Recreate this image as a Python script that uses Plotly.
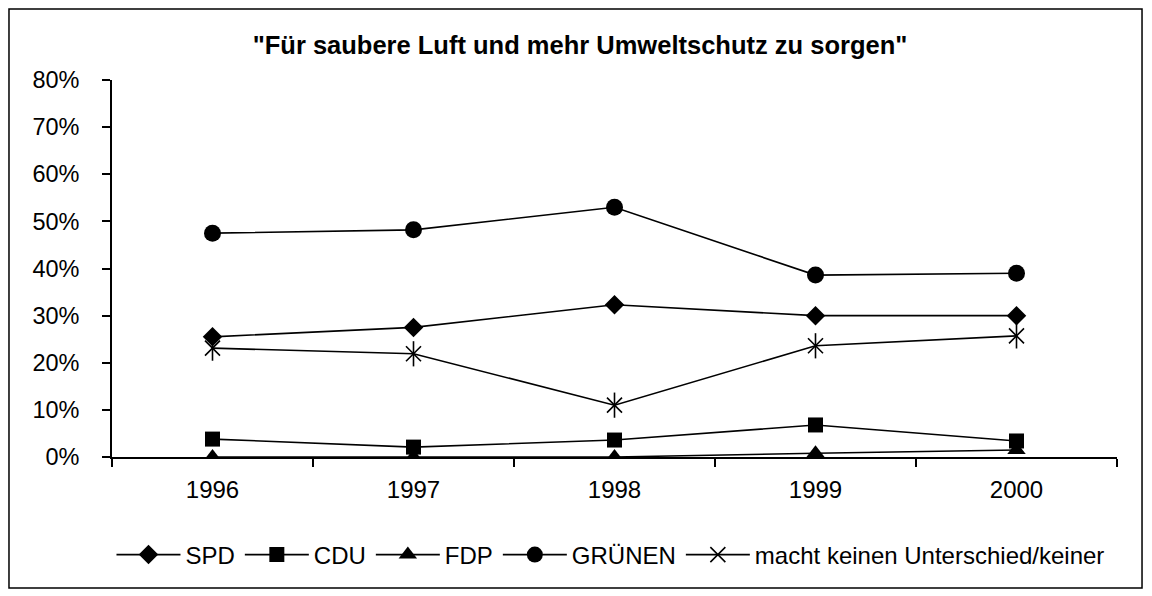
import plotly.graph_objects as go

years = ["1996", "1997", "1998", "1999", "2000"]
spd = [0.255, 0.275, 0.323, 0.300, 0.300]
cdu = [0.038, 0.021, 0.036, 0.068, 0.034]
fdp = [0.0, 0.0, 0.0, 0.008, 0.015]
gruenen = [0.475, 0.482, 0.530, 0.386, 0.390]
keiner = [0.231, 0.219, 0.110, 0.236, 0.257]

title_text = '"Für saubere Luft und mehr Umweltschutz zu sorgen"'
y_ticks = [0, 0.1, 0.2, 0.3, 0.4, 0.5, 0.6, 0.7, 0.8]

fig = go.Figure()
line = dict(color="black", width=1.6)
fig.add_trace(go.Scatter(x=years, y=spd, name="SPD", mode="lines+markers", line=line,
                         marker=dict(symbol="diamond", size=15, color="black")))
fig.add_trace(go.Scatter(x=years, y=cdu, name="CDU", mode="lines+markers", line=line,
                         marker=dict(symbol="square", size=15, color="black")))
fig.add_trace(go.Scatter(x=years, y=fdp, name="FDP", mode="lines+markers", line=line,
                         marker=dict(symbol="triangle-up", size=16, color="black")))
fig.add_trace(go.Scatter(x=years, y=gruenen, name="GRÜNEN", mode="lines+markers", line=line,
                         marker=dict(symbol="circle", size=17, color="black")))
fig.add_trace(go.Scatter(x=years, y=keiner, name="macht keinen Unterschied/keiner", mode="lines+markers",
                         line=line,
                         marker=dict(symbol="x-thin-open", size=15, color="black",
                                     line=dict(color="black", width=1.6))))
fig.add_trace(go.Scatter(x=years, y=keiner, mode="markers", showlegend=False, hoverinfo="skip",
                         marker=dict(symbol="line-ns-open", size=18, color="black",
                                     line=dict(color="black", width=1.6))))

fig.update_layout(
    width=1144, height=588,
    margin=dict(l=104, r=35, t=72, b=139),
    paper_bgcolor="white", plot_bgcolor="white",
    font=dict(family="Arial, Liberation Sans, sans-serif", size=23, color="black"),
    title=dict(text="<b>" + title_text + "</b>", x=0.5, xanchor="center", y=0.937, yanchor="middle",
               font=dict(size=25.5)),
    showlegend=True,
    legend=dict(orientation="h", x=0.496, xanchor="center", y=-0.26, yanchor="middle",
                font=dict(size=24), itemwidth=64, tracegroupgap=0, bgcolor="rgba(0,0,0,0)"),
)
fig.update_xaxes(type="category", range=[-0.5, 4.5], showline=True, linecolor="black", linewidth=1.6,
                 ticks="outside", tickson="boundaries", ticklen=8, tickcolor="black", tickwidth=1.6,
                 showgrid=False, zeroline=False, tickfont=dict(size=24), ticklabelstandoff=10)
fig.update_yaxes(range=[0, 0.8], tickvals=y_ticks, tickformat=".0%", showline=True, linecolor="black",
                 linewidth=1.6, ticks="outside", ticklen=8, tickcolor="black", tickwidth=1.6,
                 showgrid=False, zeroline=False, tickfont=dict(size=23.5), ticklabelstandoff=18)
fig.add_shape(type="rect", xref="paper", yref="paper", x0=-0.1025, x1=1.0249, y0=-0.3475, y1=1.1883,
              line=dict(color="black", width=1.5), layer="below")

fig.write_html("out.html")
